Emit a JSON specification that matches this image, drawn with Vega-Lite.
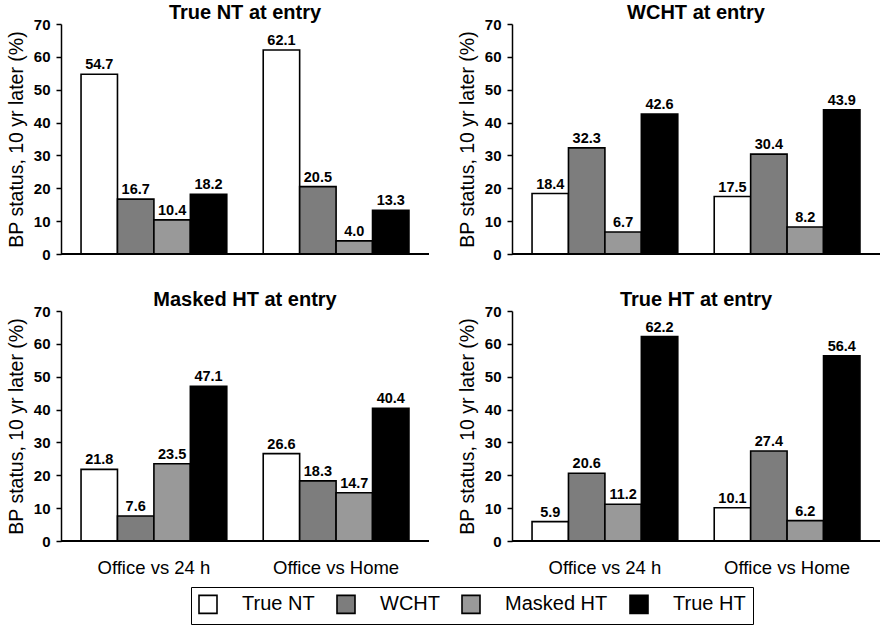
{
  "$schema": "https://vega.github.io/schema/vega-lite/v6.json",
  "background": "white",
  "padding": {"left": 6, "top": 3, "right": 0, "bottom": 0},
  "data": {"values": [
    {"panel": "True NT at entry", "comparison": "Office vs 24 h", "status": "True NT", "value": 54.7},
    {"panel": "True NT at entry", "comparison": "Office vs 24 h", "status": "WCHT", "value": 16.7},
    {"panel": "True NT at entry", "comparison": "Office vs 24 h", "status": "Masked HT", "value": 10.4},
    {"panel": "True NT at entry", "comparison": "Office vs 24 h", "status": "True HT", "value": 18.2},
    {"panel": "True NT at entry", "comparison": "Office vs Home", "status": "True NT", "value": 62.1},
    {"panel": "True NT at entry", "comparison": "Office vs Home", "status": "WCHT", "value": 20.5},
    {"panel": "True NT at entry", "comparison": "Office vs Home", "status": "Masked HT", "value": 4.0},
    {"panel": "True NT at entry", "comparison": "Office vs Home", "status": "True HT", "value": 13.3},
    {"panel": "WCHT at entry", "comparison": "Office vs 24 h", "status": "True NT", "value": 18.4},
    {"panel": "WCHT at entry", "comparison": "Office vs 24 h", "status": "WCHT", "value": 32.3},
    {"panel": "WCHT at entry", "comparison": "Office vs 24 h", "status": "Masked HT", "value": 6.7},
    {"panel": "WCHT at entry", "comparison": "Office vs 24 h", "status": "True HT", "value": 42.6},
    {"panel": "WCHT at entry", "comparison": "Office vs Home", "status": "True NT", "value": 17.5},
    {"panel": "WCHT at entry", "comparison": "Office vs Home", "status": "WCHT", "value": 30.4},
    {"panel": "WCHT at entry", "comparison": "Office vs Home", "status": "Masked HT", "value": 8.2},
    {"panel": "WCHT at entry", "comparison": "Office vs Home", "status": "True HT", "value": 43.9},
    {"panel": "Masked HT at entry", "comparison": "Office vs 24 h", "status": "True NT", "value": 21.8},
    {"panel": "Masked HT at entry", "comparison": "Office vs 24 h", "status": "WCHT", "value": 7.6},
    {"panel": "Masked HT at entry", "comparison": "Office vs 24 h", "status": "Masked HT", "value": 23.5},
    {"panel": "Masked HT at entry", "comparison": "Office vs 24 h", "status": "True HT", "value": 47.1},
    {"panel": "Masked HT at entry", "comparison": "Office vs Home", "status": "True NT", "value": 26.6},
    {"panel": "Masked HT at entry", "comparison": "Office vs Home", "status": "WCHT", "value": 18.3},
    {"panel": "Masked HT at entry", "comparison": "Office vs Home", "status": "Masked HT", "value": 14.7},
    {"panel": "Masked HT at entry", "comparison": "Office vs Home", "status": "True HT", "value": 40.4},
    {"panel": "True HT at entry", "comparison": "Office vs 24 h", "status": "True NT", "value": 5.9},
    {"panel": "True HT at entry", "comparison": "Office vs 24 h", "status": "WCHT", "value": 20.6},
    {"panel": "True HT at entry", "comparison": "Office vs 24 h", "status": "Masked HT", "value": 11.2},
    {"panel": "True HT at entry", "comparison": "Office vs 24 h", "status": "True HT", "value": 62.2},
    {"panel": "True HT at entry", "comparison": "Office vs Home", "status": "True NT", "value": 10.1},
    {"panel": "True HT at entry", "comparison": "Office vs Home", "status": "WCHT", "value": 27.4},
    {"panel": "True HT at entry", "comparison": "Office vs Home", "status": "Masked HT", "value": 6.2},
    {"panel": "True HT at entry", "comparison": "Office vs Home", "status": "True HT", "value": 56.4}
  ]},
  "facet": {
    "field": "panel", "type": "nominal",
    "sort": ["True NT at entry", "WCHT at entry", "Masked HT at entry", "True HT at entry"],
    "header": {"title": null, "labelFontSize": 20, "labelFontWeight": "bold", "labelFont": "Liberation Sans", "labelColor": "black", "labelPadding": -6}
  },
  "columns": 2,
  "spacing": {"column": 27, "row": 28},
  "resolve": {"axis": {"y": "independent"}},
  "spec": {
    "width": 368,
    "height": 230,
    "encoding": {
      "x": {"field": "comparison", "type": "nominal", "sort": ["Office vs 24 h", "Office vs Home"],
        "scale": {"paddingInner": 0.2, "paddingOuter": 0.11},
        "axis": {"title": null, "labelAngle": 0, "ticks": false, "domain": false, "labelFontSize": 18.5, "labelPadding": 9, "labelColor": "black", "labelFont": "Liberation Sans"}},
      "xOffset": {"field": "status", "type": "nominal", "sort": ["True NT", "WCHT", "Masked HT", "True HT"]},
      "y": {"field": "value", "type": "quantitative", "scale": {"domain": [0, 70], "nice": false},
        "axis": {"title": "BP status, 10 yr later (%)", "values": [0, 10, 20, 30, 40, 50, 60, 70], "grid": false,
          "domainColor": "black", "domainWidth": 1.5, "tickColor": "black", "tickWidth": 1.5, "tickSize": 5,
          "labelFontSize": 15, "labelFontWeight": "bold", "labelColor": "black", "labelFont": "Liberation Sans", "labelPadding": 6,
          "titleFontSize": 19.5, "titleFontWeight": "normal", "titleColor": "black", "titleFont": "Liberation Sans", "titlePadding": 7}}
    },
    "layer": [
      {
        "mark": {"type": "bar", "stroke": "black", "strokeWidth": 1.6},
        "encoding": {
          "fill": {"field": "status", "type": "nominal",
            "scale": {"domain": ["True NT", "WCHT", "Masked HT", "True HT"], "range": ["#ffffff", "#7d7d7d", "#999999", "#000000"]},
            "legend": {"title": null, "orient": "none", "legendX": 130, "legendY": 563, "direction": "horizontal",
              "symbolType": "square", "symbolSize": 324, "symbolStrokeColor": "black", "symbolStrokeWidth": 1.6,
              "labelFontSize": 20, "labelFont": "Liberation Sans", "labelColor": "black", "labelOffset": 24,
              "columnPadding": 18, "strokeColor": "black", "padding": 7, "offset": 0}}
        }
      },
      {
        "mark": {"type": "text", "dy": -9, "fontSize": 14.5, "fontWeight": "bold", "font": "Liberation Sans", "color": "black"},
        "encoding": {"text": {"field": "value", "type": "quantitative", "format": ".1f"}}
      },
      {
        "mark": {"type": "rule", "color": "black", "strokeWidth": 1.6},
        "encoding": {"y": {"datum": 0}, "x": null, "xOffset": null}
      }
    ]
  },
  "config": {"view": {"stroke": null}, "font": "Liberation Sans"}
}
